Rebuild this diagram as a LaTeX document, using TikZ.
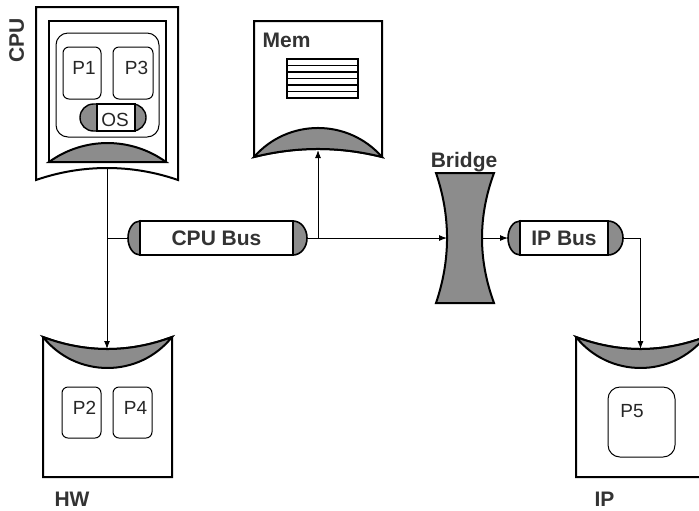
\documentclass[tikz,border=0pt]{standalone}
\usepackage{fontspec}
\setmainfont{Liberation Sans}
\usetikzlibrary{arrows.meta}
\usetikzlibrary{positioning}
\tikzset{
    boxn/.style = {draw=black, line width=1pt, fill=white},
    boxg/.style = {draw=black, line width=1pt, fill=black!45},
    boxp/.style = {draw=black, line width=0.5pt, rounded corners=3pt, fill=white},
    busn/.style = {draw=black, line width=0.8pt, fill=white, minimum height=17pt, inner sep=0pt, outer sep=0pt, font=\bfseries\fontsize{10.5}{12}\selectfont, text=black!80},
    capg/.style = {draw=black, line width=0.8pt, fill=black!45},
    labeln/.style = {font=\bfseries\fontsize{10.5}{12}\selectfont, text=black!80, inner sep=0pt, anchor=base},
    labelp/.style = {font=\fontsize{9.5}{11}\selectfont, text=black!85, inner sep=0pt, anchor=base},
    edgen/.style = {-, line width=0.5pt, black},
    edgea/.style = {-{Latex[length=4pt,width=3pt]}, line width=0.5pt, black}
}

\begin{document}
\begin{tikzpicture}[x=0.5pt, y=-0.5pt]
\useasboundingbox (0,0) rectangle (699,510);
\clip (0,0) rectangle (699,510);

% CPU
\draw[boxn] (36,180) -- (36,7) -- (178,7) -- (178,180) .. controls (132,164) and (82,164) .. (36,180) -- cycle;
\draw[boxn] (49,21) rectangle (166,162);
\draw[boxg] (49,162) .. controls (83.9,136.7) and (131.1,136.7) .. (166,162) -- cycle;
\draw[boxp, rounded corners=6pt] (56,33) rectangle (159,137);
\draw[boxp] (63,47) rectangle (101,99);
\draw[boxp] (113,47) rectangle (153,99);
\draw[boxg, line width=0.7pt, rounded corners=6.75pt] (80,104) rectangle (146,131);
\draw[boxn, line width=0.7pt] (97,104) rectangle (135,131);
\node[labelp] at ( 84, 74) (p1) {P1};
\node[labelp] at (136.5, 74) (p3) {P3};
\node[labelp] at (115,126) (os) {OS};
\node[labeln, rotate=90] at (24, 40) (cpu) {CPU};

% Mem
\draw[boxn] (254,157) -- (254,21) -- (382,21) -- (382,157) .. controls (339.3,146.3) and (296.7,146.3) .. (254,157) -- cycle;
\draw[boxg] (254,157) .. controls (287.9,118.3) and (348.1,118.3) .. (382,157) .. controls (339.3,146.3) and (296.7,146.3) .. (254,157) -- cycle;
\draw[line width=0.6pt, fill=white] (287,59) rectangle (358,98);
\foreach \k in {1,...,5}
    \draw[line width=0.6pt] (287,{59+\k*6.5}) -- (358,{59+\k*6.5});
\node[labeln] at (286.5, 47) (mem) {Mem};

% Bridge
\draw[boxg] (436,173) -- (494,173) .. controls (478,216.3) and (478,259.7) .. (494,303) -- (436,303) .. controls (450.7,259.7) and (450.7,216.3) .. (436,173) -- cycle;
\node[labeln] at (464,167) (bridge) {Bridge};

% HW
\draw[boxn] (43,337) .. controls (86,353) and (129,353) .. (172,337) -- (172,477) -- (43,477) -- cycle;
\draw[boxg] (43,337) .. controls (86,353) and (129,353) .. (172,337) .. controls (138.9,378.3) and (76.1,378.3) .. (43,337) -- cycle;
\draw[boxp] (62,387) rectangle (101,438);
\draw[boxp] (113,387) rectangle (152,438);
\node[labelp] at ( 84.5,414) (p2) {P2};
\node[labelp] at (135.5,414) (p4) {P4};
\node[labeln] at ( 72,506) (hw) {HW};

% IP
\draw[boxn] (576,337) .. controls (619,353) and (662,353) .. (705,337) -- (705,477) -- (576,477) -- cycle;
\draw[boxg] (576,337) .. controls (619,353) and (662,353) .. (705,337) .. controls (671.9,378.3) and (609.1,378.3) .. (576,337) -- cycle;
\draw[boxp, rounded corners=6pt] (608,387) rectangle (675,457);
\node[labelp] at (632,417) (p5) {P5};
\node[labeln] at (604.5,506) (ip) {IP};

% buses
\node[busn, minimum width=76.5pt] at (216.5,238) (cpubus) {CPU Bus};
\draw[capg] (cpubus.north west) arc[start angle=90, end angle=270, x radius=6pt, y radius=8.5pt] -- cycle;
\draw[capg] (cpubus.south east) arc[start angle=-90, end angle=90, x radius=7pt, y radius=8.5pt] -- cycle;
\node[busn, minimum width=44pt] at (564,238) (ipbus) {IP Bus};
\draw[capg] (ipbus.north west) arc[start angle=90, end angle=270, x radius=6pt, y radius=8.5pt] -- cycle;
\draw[capg] (ipbus.south east) arc[start angle=-90, end angle=90, x radius=7.5pt, y radius=8.5pt] -- cycle;

% ports
\coordinate (cpuout) at (107,168);
\coordinate (hwin) at (107,349);
\coordinate (cpuj) at (107,238);
\coordinate (cpubusl) at (128,238);
\coordinate (cpubusr) at (307,238);
\coordinate (memj) at (318,238);
\coordinate (memin) at (318,150);
\coordinate (bridgel) at (447,238);
\coordinate (bridger) at (482,238);
\coordinate (ipbusl) at (508,238);
\coordinate (ipbusr) at (623,238);
\coordinate (ipin) at (640.5,349);

\draw[edgea] (cpuout) -- (hwin);
\draw[edgen] (cpuj) -- (cpubusl);
\draw[edgea] (cpubusr) -- (bridgel);
\draw[edgea] (memj) -- (memin);
\draw[edgea] (bridger) -- (ipbusl);
\draw[edgea] (ipbusr) -| (ipin);

\end{tikzpicture}
\end{document}
